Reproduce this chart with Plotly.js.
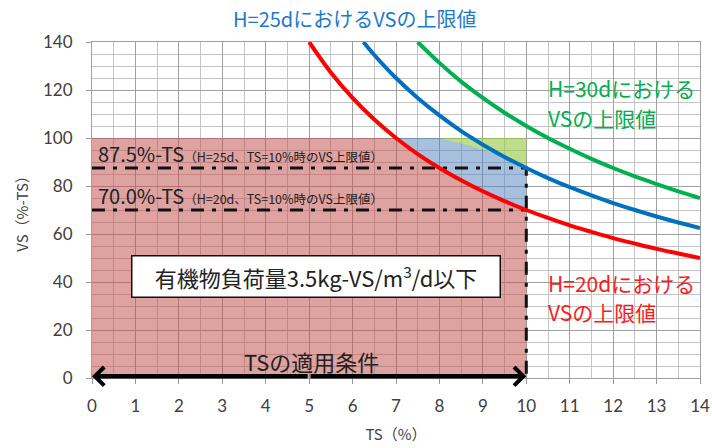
<!DOCTYPE html>
<html>
<head>
<meta charset="utf-8">
<script src="https://cdn.plot.ly/plotly-3.0.1.min.js"></script>
<style>html,body{margin:0;padding:0;background:#fff;}#chart{width:712px;height:448px;}</style>
</head>
<body>
<div id="chart"></div>
<script>
// Upper-limit VS curves
const tsRed   = [5, 5.5, 6, 6.5, 7, 7.5, 8, 8.5, 9, 9.5, 10, 10.5, 11, 11.5, 12, 12.5, 13, 13.5, 14];
const vsRed   = [140, 127.3, 116.7, 107.7, 100, 93.3, 87.5, 82.4, 77.8, 73.7, 70, 66.7, 63.6, 60.9, 58.3, 56, 53.8, 51.9, 50];
const tsBlue  = [6.25, 6.5, 7, 7.5, 8, 8.5, 8.75, 9, 9.5, 10, 10.5, 11, 11.5, 12, 12.5, 13, 13.5, 14];
const vsBlue  = [140, 134.6, 125, 116.7, 109.4, 102.9, 100, 97.2, 92.1, 87.5, 83.3, 79.5, 76.1, 72.9, 70, 67.3, 64.8, 62.5];
const tsGreen = [7.5, 8, 8.5, 9, 9.5, 10, 10.5, 11, 11.5, 12, 12.5, 13, 13.5, 14];
const vsGreen = [140, 131.3, 123.5, 116.7, 110.5, 105, 100, 95.5, 91.3, 87.5, 84, 80.8, 77.8, 75];
// boundary between the blue and green shaded areas
const tsZone  = [8, 8.5, 9, 9.5, 10];
const vsZone  = [100, 97.8, 95.3, 92.3, 88.5];
// reference levels
const vsCap = 100;
const tsLimit = 10;
const level25 = 87.5;
const level20 = 70.0;
const xTicks = [0,1,2,3,4,5,6,7,8,9,10,11,12,13,14];
const yTicks = [0,20,40,60,80,100,120,140];

// pink area: below min(red, cap) from 0 to limit
const pinkX = [0], pinkY = [vsCap];
tsRed.forEach((t,i)=>{ if (t<=tsLimit){ pinkX.push(t); pinkY.push(Math.min(vsRed[i], vsCap)); }});
pinkX.push(tsLimit, 0); pinkY.push(0, 0);

// blue area: between red and zone boundary / cap
const blueX = [], blueY = [];
const redIn = tsRed.map((t,i)=>[t,vsRed[i]]).filter(p=>p[0]>=7 && p[0]<=tsLimit);
blueX.push(redIn[0][0]); blueY.push(vsCap);
tsZone.forEach((t,i)=>{ blueX.push(t); blueY.push(vsZone[i]); });
redIn.slice().reverse().forEach(p=>{ blueX.push(p[0]); blueY.push(p[1]); });

// green area: between zone boundary and cap
const greenX = [tsZone[0], tsLimit], greenY = [vsCap, vsCap];
tsZone.slice().reverse().forEach((t,k)=>{ const i = tsZone.length-1-k; greenX.push(t); greenY.push(vsZone[i]); });

const JP = '"Noto Sans CJK JP", "Noto Sans", sans-serif';
const dd = '13px,8px,4px,8px';

const traces = [
  {x: pinkX, y: pinkY, mode:'lines', fill:'toself', fillcolor:'rgba(192,80,77,0.53)', line:{width:0}, hoverinfo:'skip'},
  {x: blueX, y: blueY, mode:'lines', fill:'toself', fillcolor:'rgba(79,129,189,0.5)', line:{width:0}, hoverinfo:'skip'},
  {x: greenX, y: greenY, mode:'lines', fill:'toself', fillcolor:'rgba(146,200,60,0.6)', line:{width:0}, hoverinfo:'skip'},
  {x: [0, tsLimit, tsLimit], y: [level25, level25, 0], mode:'lines', line:{color:'#111', width:3, dash:dd}, hoverinfo:'skip'},
  {x: [0, tsLimit], y: [level20, level20], mode:'lines', line:{color:'#111', width:3, dash:dd}, hoverinfo:'skip'},
  {x: tsGreen, y: vsGreen, mode:'lines', line:{color:'#00b050', width:4, shape:'spline'}, hoverinfo:'skip'},
  {x: tsBlue, y: vsBlue, mode:'lines', line:{color:'#0070c0', width:4, shape:'spline'}, hoverinfo:'skip'},
  {x: tsRed, y: vsRed, mode:'lines', line:{color:'#ff0000', width:4, shape:'spline'}, hoverinfo:'skip'}
];

const ann = [
  {xref:'paper', yref:'paper', x:0.432, y:1.07, xanchor:'center', yanchor:'middle', showarrow:false,
   text:'H=25dにおけるVSの上限値', font:{family:JP, size:20, color:'#1f78c8'}},
  {x:10.45, y:120.8, xanchor:'left', yanchor:'middle', showarrow:false, text:'H=30dにおける', font:{family:JP, size:21, color:'#00b050'}},
  {x:10.45, y:108.3, xanchor:'left', yanchor:'middle', showarrow:false, text:'VSの上限値', font:{family:JP, size:21, color:'#00b050'}},
  {x:10.45, y:39.6, xanchor:'left', yanchor:'middle', showarrow:false, text:'H=20dにおける', font:{family:JP, size:21, color:'#ff1a1a'}},
  {x:10.45, y:27.5, xanchor:'left', yanchor:'middle', showarrow:false, text:'VSの上限値', font:{family:JP, size:21, color:'#ff1a1a'}},
  {x:0.1, y:93.4, xanchor:'left', yanchor:'middle', showarrow:false,
   text:'87.5%-TS<span style="font-size:12.5px">（H=25d、TS=10%時のVS上限値）</span>', font:{family:JP, size:20, color:'#222'}},
  {x:0.1, y:75.9, xanchor:'left', yanchor:'middle', showarrow:false,
   text:'70.0%-TS<span style="font-size:12.5px">（H=20d、TS=10%時のVS上限値）</span>', font:{family:JP, size:20, color:'#222'}},
  {x:5.15, y:42.2, xanchor:'center', yanchor:'middle', showarrow:false, width:367, height:40,
   bgcolor:'#ffffff', bordercolor:'#111', borderwidth:1.5, borderpad:0,
   text:'有機物負荷量3.5kg-VS/m<sup>3</sup>/d以下', font:{family:JP, size:22, color:'#222'}},
  {x:5.06, y:7.2, xanchor:'center', yanchor:'middle', showarrow:false, text:'TSの適用条件', font:{family:JP, size:22, color:'#222'}},
  {x:0, y:0.7, ax:5, ay:0.7, axref:'x', ayref:'y', text:'', showarrow:true, arrowhead:4, arrowsize:0.8, arrowwidth:4.5, arrowcolor:'#000', standoff:0, startstandoff:0},
  {x:tsLimit, y:0.7, ax:5, ay:0.7, axref:'x', ayref:'y', text:'', showarrow:true, arrowhead:4, arrowsize:0.8, arrowwidth:4.5, arrowcolor:'#000', standoff:0, startstandoff:0}
];

const layout = {
  width:712, height:448,
  margin:{l:92, r:12, t:42, b:70},
  paper_bgcolor:'#fff', plot_bgcolor:'#fff',
  showlegend:false,
  font:{family:'Lato, "Noto Sans", sans-serif', color:'#404040'},
  xaxis:{range:[0,14], tickvals:xTicks, ticktext:xTicks.map(String), ticks:'outside', ticklen:5, tickcolor:'#999',
    ticklabelstandoff:8,
    showgrid:true, gridcolor:'#a0a0a0', gridwidth:1, zeroline:false, showline:true, linecolor:'#a0a0a0', mirror:true,
    minor:{dtick:0.5, showgrid:true, gridcolor:'#c4c4c4', gridwidth:1},
    tickfont:{size:17, color:'#404040'},
    title:{text:'TS（%）', font:{family:JP, size:15, color:'#404040'}, standoff:14}},
  yaxis:{range:[0,140], tickvals:yTicks, ticktext:yTicks.map(String), ticks:'outside', ticklen:5, tickcolor:'#999',
    ticklabelstandoff:10,
    showgrid:true, gridcolor:'#a0a0a0', gridwidth:1, zeroline:false, showline:true, linecolor:'#a0a0a0', mirror:true,
    minor:{dtick:5, showgrid:true, gridcolor:'#c4c4c4', gridwidth:1},
    tickfont:{size:17, color:'#404040'},
    title:{text:'VS（%-TS）', font:{family:JP, size:15, color:'#404040'}, standoff:10}},
  annotations: ann
};

Plotly.newPlot('chart', traces, layout, {staticPlot:true, displayModeBar:false});
</script>
</body>
</html>
